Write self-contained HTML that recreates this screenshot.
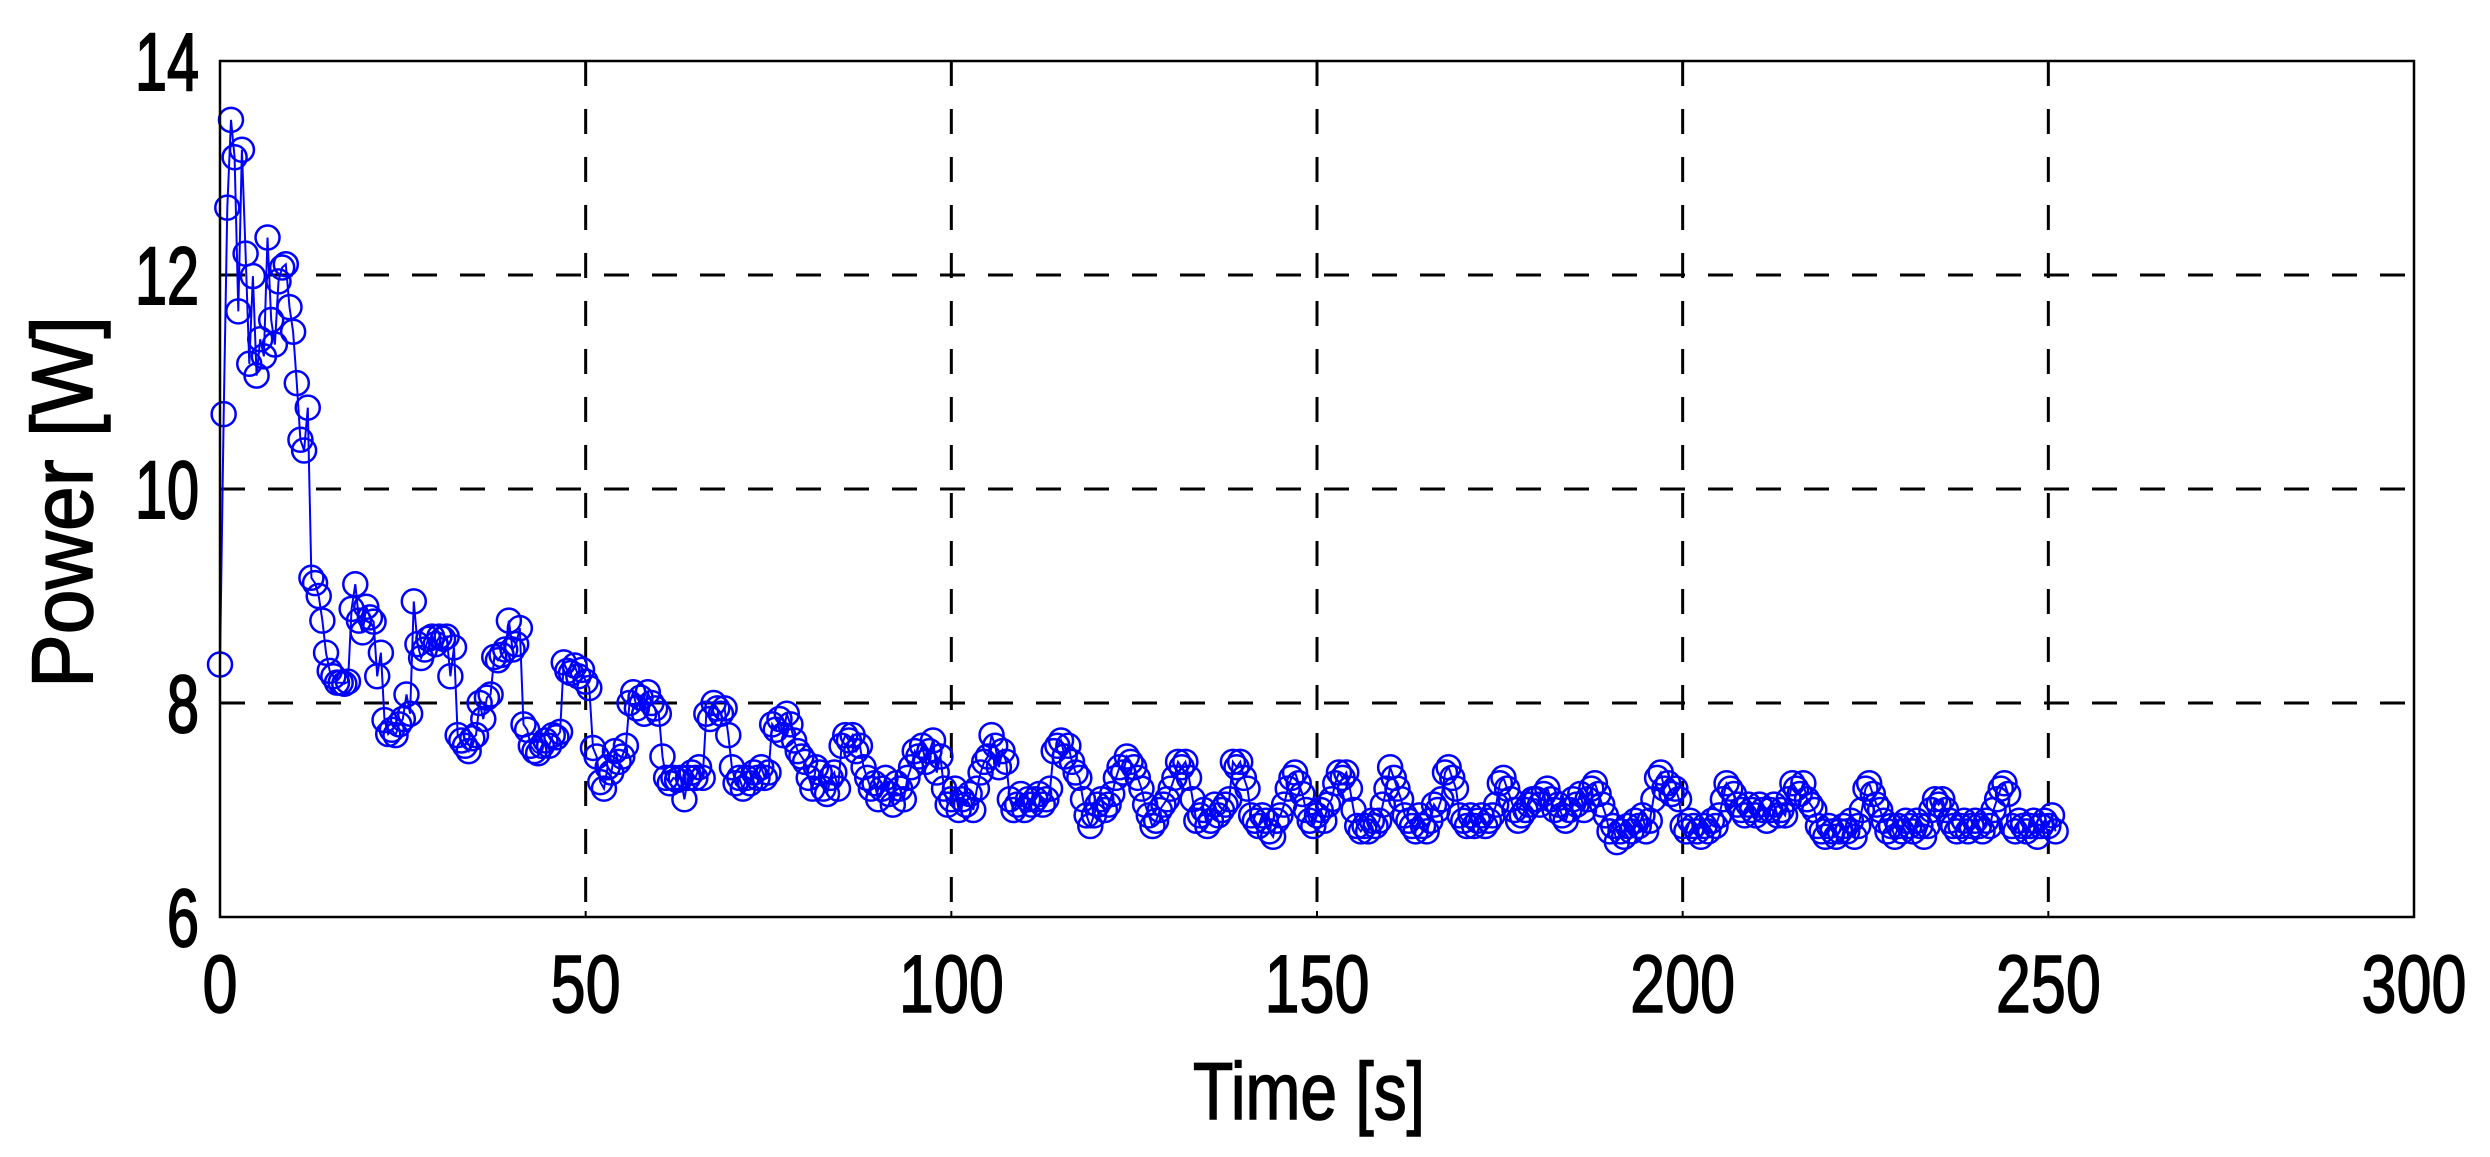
<!DOCTYPE html>
<html><head><meta charset="utf-8"><style>html,body{margin:0;padding:0;background:#fff}svg{display:block}</style></head>
<body>
<svg id="chart" width="2490" height="1157" viewBox="0 0 2490 1157" xmlns="http://www.w3.org/2000/svg" font-family="Liberation Sans, Arial, sans-serif">
<rect x="0" y="0" width="2490" height="1157" fill="#fff"/>
<g id="grid"></g>
<g id="series"></g>
<rect x="220" y="61" width="2194" height="856" fill="none" stroke="#000" stroke-width="2.5"/>
<g id="ticks"></g>
<text x="1309" y="1119" font-size="81" text-anchor="middle" textLength="232" lengthAdjust="spacingAndGlyphs" stroke="#000" stroke-width="1.5">Time [s]</text>
<text transform="translate(92,502) rotate(-90)" font-size="86" text-anchor="middle" textLength="372" lengthAdjust="spacingAndGlyphs" stroke="#000" stroke-width="1.5">Power [W]</text>
</svg>
<script>
const dt = 0.5;
const powerValues = [
8.36,10.7,12.63,13.45,13.1,11.66,13.17,12.2,11.17,11.99,
11.06,11.4,11.24,12.35,11.58,11.35,11.94,12.07,12.1,11.7,
11.47,10.99,10.46,10.36,10.76,9.17,9.12,9.0,8.77,8.47,
8.3,8.25,8.19,8.19,8.18,8.2,8.88,9.11,8.77,8.66,
8.9,8.8,8.76,8.25,8.47,7.84,7.71,7.75,7.7,7.8,
7.85,8.08,7.9,8.95,8.55,8.42,8.5,8.6,8.62,8.55,
8.62,8.6,8.62,8.25,8.52,7.7,7.65,7.6,7.55,7.67,
7.7,8.0,7.85,8.05,8.08,8.43,8.4,8.45,8.5,8.77,
8.5,8.55,8.7,7.8,7.75,7.6,7.55,7.53,7.6,7.65,
7.6,7.7,7.68,7.73,8.38,8.3,8.28,8.35,8.25,8.31,
8.2,8.14,7.58,7.5,7.26,7.2,7.4,7.35,7.55,7.45,
7.5,7.6,8.0,8.1,7.95,8.05,7.9,8.1,8.0,7.95,
7.9,7.5,7.3,7.25,7.3,7.28,7.3,7.1,7.3,7.35,
7.3,7.4,7.3,7.9,7.85,8.0,7.95,7.9,7.95,7.7,
7.4,7.25,7.3,7.2,7.3,7.25,7.35,7.3,7.4,7.3,
7.35,7.8,7.75,7.85,7.7,7.9,7.8,7.65,7.55,7.5,
7.45,7.3,7.2,7.4,7.35,7.2,7.15,7.3,7.35,7.2,
7.6,7.7,7.65,7.7,7.55,7.6,7.4,7.3,7.2,7.25,
7.1,7.2,7.3,7.15,7.05,7.25,7.2,7.1,7.3,7.4,
7.55,7.5,7.6,7.45,7.55,7.65,7.35,7.5,7.2,7.05,
7.1,7.2,7.0,7.1,7.05,7.15,7.0,7.2,7.35,7.45,
7.5,7.7,7.6,7.4,7.55,7.45,7.1,7.0,7.05,7.15,
7.0,7.1,7.05,7.1,7.15,7.05,7.1,7.2,7.55,7.6,
7.65,7.5,7.6,7.45,7.35,7.3,7.1,6.95,6.85,6.95,
7.05,7.1,7.0,7.05,7.15,7.3,7.4,7.35,7.5,7.45,
7.4,7.3,7.2,7.05,6.95,6.85,6.9,7.0,7.05,7.1,
7.2,7.3,7.45,7.4,7.45,7.3,7.1,6.9,6.95,7.0,
6.85,6.9,7.05,6.95,7.0,7.05,7.1,7.45,7.4,7.45,
7.3,7.2,6.95,6.9,6.85,6.95,6.9,6.8,6.75,6.9,
6.95,7.05,7.2,7.3,7.35,7.25,7.15,7.0,6.9,6.85,
6.95,7.0,6.9,7.05,7.1,7.25,7.35,7.3,7.35,7.2,
7.0,6.85,6.8,6.85,6.8,6.9,6.85,6.9,7.05,7.2,
7.4,7.3,7.2,7.1,6.95,6.9,6.85,6.8,6.95,6.85,
6.8,6.9,7.05,7.0,7.1,7.35,7.4,7.3,7.2,6.95,
6.9,6.85,6.95,6.85,6.9,6.95,6.85,6.9,6.95,7.05,
7.25,7.3,7.2,7.1,7.0,6.9,6.95,7.0,7.05,7.1,
7.1,7.05,7.15,7.2,7.1,7.0,7.05,6.95,6.9,7.0,
7.1,7.05,7.15,7.0,7.1,7.2,7.25,7.15,7.05,6.95,
6.8,6.85,6.7,6.8,6.75,6.85,6.8,6.9,6.85,6.95,
6.8,6.9,7.1,7.3,7.35,7.2,7.25,7.15,7.2,7.1,
6.85,6.8,6.9,6.85,6.8,6.75,6.85,6.8,6.9,6.85,
6.95,7.1,7.25,7.2,7.15,7.05,7.0,6.95,7.05,7.0,
6.95,7.05,7.0,6.9,7.0,7.05,6.95,7.0,6.95,7.1,
7.25,7.2,7.15,7.25,7.1,7.05,7.0,6.85,6.8,6.75,
6.85,6.8,6.75,6.8,6.85,6.8,6.9,6.75,6.85,7.0,
7.2,7.25,7.15,7.05,7.0,6.9,6.8,6.85,6.75,6.85,
6.8,6.9,6.85,6.8,6.9,6.85,6.75,6.85,7.0,7.1,
7.05,7.1,7.0,6.9,6.85,6.8,6.85,6.9,6.8,6.85,
6.9,6.85,6.8,6.9,6.85,7.0,7.1,7.2,7.25,7.15,
6.85,6.8,6.9,6.85,6.8,6.85,6.9,6.75,6.85,6.9,
6.85,6.95,6.8
];
const xTicks = [0,50,100,150,200,250,300];
const yTicks = [6,8,10,12,14];
const xTickLabels = ["0","50","100","150","200","250","300"];
const yTickLabels = ["6","8","10","12","14"];

const X0=220, X1=2414, Y0=917, Y1=61, XMIN=0, XMAX=300, YMIN=6, YMAX=14;
const xs = v => X0 + (v-XMIN)/(XMAX-XMIN)*(X1-X0);
const ys = v => Y0 - (v-YMIN)/(YMAX-YMIN)*(Y0-Y1);
const NS="http://www.w3.org/2000/svg";
const grid=document.getElementById('grid'), ticks=document.getElementById('ticks'), series=document.getElementById('series');
function mk(tag, attrs){const e=document.createElementNS(NS,tag);for(const k in attrs)e.setAttribute(k,attrs[k]);return e;}

xTicks.forEach((t,i)=>{
  const x=xs(t);
  if(t>XMIN && t<XMAX){
    const g=mk('line',{x1:x,y1:Y1,x2:x,y2:Y0,stroke:'#000','stroke-width':3,'stroke-dasharray':'25 23'});
    
    
    grid.appendChild(g);
  }
  const tk=mk('line',{x1:x,y1:Y0,x2:x,y2:Y0-6,stroke:'#000','stroke-width':2});
  
  
  ticks.appendChild(tk);
  const lab=xTickLabels[i];
  const tx=mk('text',{x:x,y:1012,'font-size':82,'text-anchor':'middle',textLength:35*lab.length,lengthAdjust:'spacingAndGlyphs',stroke:'#000','stroke-width':1.5});
  tx.textContent=lab;
  
  
  ticks.appendChild(tx);
});
yTicks.forEach((t,i)=>{
  const y=ys(t);
  if(t>YMIN && t<YMAX){
    const g=mk('line',{x1:X0,y1:y,x2:X1,y2:y,stroke:'#000','stroke-width':3,'stroke-dasharray':'25 23'});
    
    
    grid.appendChild(g);
  }
  const lab=yTickLabels[i];
  const tx=mk('text',{x:199,y:y+29,'font-size':82,'text-anchor':'end',textLength:32*lab.length,lengthAdjust:'spacingAndGlyphs',stroke:'#000','stroke-width':2});
  tx.textContent=lab;
  
  
  ticks.appendChild(tx);
});

let d='';
powerValues.forEach((v,i)=>{d+=(i?'L':'M')+xs(i*dt).toFixed(1)+' '+ys(v).toFixed(1);});
const line=mk('path',{d:d,fill:'none',stroke:'#0000ff','stroke-width':2});


series.appendChild(line);
powerValues.forEach((v,i)=>{
  const c=mk('circle',{cx:xs(i*dt),cy:ys(v),r:12,fill:'none',stroke:'#0000ff','stroke-width':2.5});
  
  
  series.appendChild(c);
});
</script>
</body></html>
